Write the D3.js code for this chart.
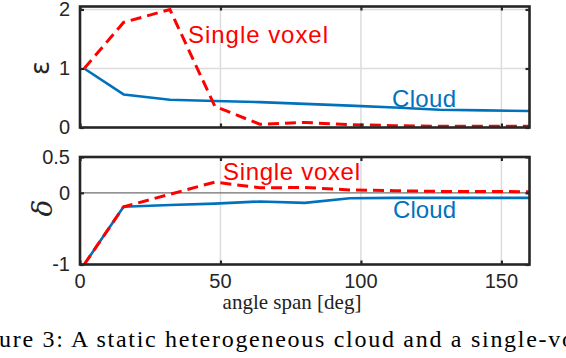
<!DOCTYPE html>
<html><head><meta charset="utf-8">
<script src="https://cdn.jsdelivr.net/npm/d3@7"></script>
<style>body{margin:0;background:#fff}svg{display:block}</style>
</head><body>
<svg id="c" width="566" height="358"></svg>
<script>
const angles = [1.5, 15.5, 32, 48, 64, 80, 96, 112, 128, 144, 160];
const epsCloud  = [1.0, 0.56, 0.47, 0.45, 0.43, 0.40, 0.37, 0.34, 0.30, 0.29, 0.28];
const epsSingle = [1.0, 1.78, 2.0, 0.36, 0.055, 0.085, 0.05, 0.03, 0.02, 0.02, 0.02];
const delCloud  = [-1, -0.195, -0.17, -0.15, -0.12, -0.14, -0.075, -0.07, -0.07, -0.07, -0.07];
const delSingle = [-1, -0.195, -0.02, 0.15, 0.07, 0.075, 0.04, 0.03, 0.02, 0.02, 0.015];
const xTicks = [0, 50, 100, 150];
const epsTicks = [0, 1, 2];
const delTicks = [-1, 0, 0.5];
const epsTickLabels = ["0", "1", "2"];
const delTickLabels = ["-1", "0", "0.5"];

const svg = d3.select("#c");
const axisCol = "#262626", blue = "#0072bd", red = "#ff0000";
const sans = "'Liberation Sans', Arial, Helvetica, sans-serif";
const serif = "'Liberation Serif', 'Times New Roman', serif";
const x = d3.scaleLinear().domain([0, 160]).range([80, 529.5]);
const yTop = d3.scaleLinear().domain([0, 2.05]).range([127.5, 6.5]);
const yBot = d3.scaleLinear().domain([-1, 0.5]).range([264.5, 157]);

function panel(y, ticks, tickLabels, gridY, cloud, single, label, labelY, zeroLine, ann) {
  const g = svg.append("g");
  const [y0, y1] = y.range();
  g.selectAll(".gx").data(xTicks.filter(t => t > 0)).enter().append("line")
    .attr("x1", d => x(d)).attr("x2", d => x(d)).attr("y1", y1).attr("y2", y0)
    .attr("stroke", "#dcdcdc").attr("stroke-width", 1.5);
  g.selectAll(".gy").data(gridY).enter().append("line")
    .attr("x1", x.range()[0]).attr("x2", x.range()[1]).attr("y1", d => y(d)).attr("y2", d => y(d))
    .attr("stroke", "#dcdcdc").attr("stroke-width", 1.5);
  if (zeroLine) {
    g.append("line").attr("x1", x.range()[0]).attr("x2", x.range()[1])
      .attr("y1", y(0)).attr("y2", y(0)).attr("stroke", "#6e6e6e").attr("stroke-width", 1.2);
  }
  const line = d3.line().x((d, i) => x(angles[i])).y(d => y(d));
  g.append("path").datum(cloud).attr("d", line).attr("fill", "none")
    .attr("stroke", blue).attr("stroke-width", 2.6).attr("stroke-linejoin", "round");
  g.append("path").datum(single).attr("d", line).attr("fill", "none")
    .attr("stroke", red).attr("stroke-width", 3).attr("stroke-dasharray", "11,6");
  g.append("rect").attr("x", x.range()[0]).attr("y", y1)
    .attr("width", x.range()[1] - x.range()[0]).attr("height", y0 - y1)
    .attr("fill", "none").attr("stroke", axisCol).attr("stroke-width", 2.6);
  const ax = g.append("g").attr("transform", `translate(0,${y0})`)
    .call(d3.axisBottom(x).tickValues(xTicks).tickSizeInner(-4).tickSizeOuter(0).tickFormat(""));
  const axT = g.append("g").attr("transform", `translate(0,${y1})`)
    .call(d3.axisTop(x).tickValues(xTicks).tickSizeInner(-4).tickSizeOuter(0).tickFormat(""));
  const ayL = g.append("g").attr("transform", `translate(${x.range()[0]},0)`)
    .call(d3.axisLeft(y).tickValues(ticks).tickSizeInner(-4).tickSizeOuter(0).tickPadding(10)
      .tickFormat((d, i) => tickLabels[i]));
  const ayR = g.append("g").attr("transform", `translate(${x.range()[1]},0)`)
    .call(d3.axisRight(y).tickValues(ticks).tickSizeInner(-4).tickSizeOuter(0).tickFormat(""));
  [ax, axT, ayL, ayR].forEach(a => {
    a.select(".domain").remove();
    a.selectAll(".tick line").attr("stroke", axisCol).attr("stroke-width", 2.2);
  });
  ayL.selectAll(".tick text").attr("fill", axisCol)
    .style("font-family", sans).style("font-size", "20px");
  svg.append("text").attr("transform", `translate(${label.x},${labelY}) rotate(-90)`)
    .attr("text-anchor", "middle").attr("dominant-baseline", "central")
    .style("font-family", label.font).style("font-style", label.style).style("font-size", label.size)
    .attr("fill", axisCol).text(label.t);
  ann.forEach(a => {
    svg.append("text").attr("x", a.x).attr("y", a.y).attr("fill", a.c)
      .attr("textLength", a.w).attr("lengthAdjust", "spacing")
      .style("font-family", sans).style("font-size", "24px").text(a.t);
  });
}

panel(yTop, epsTicks, epsTickLabels, [1, 2], epsCloud, epsSingle,
  {x: 40, t: "ε", font: "'DejaVu Sans', sans-serif", style: "normal", size: "26px"}, 68, false,
  [{t: "Single voxel", x: 188, y: 43, w: 140, c: red}, {t: "Cloud", x: 392, y: 107, w: 64, c: blue}]);

panel(yBot, delTicks, delTickLabels, [], delCloud, delSingle,
  {x: 42, t: "δ", font: "'DejaVu Serif', serif", style: "italic", size: "28px"}, 208, true,
  [{t: "Single voxel", x: 223, y: 180, w: 137, c: red}, {t: "Cloud", x: 393, y: 218, w: 63, c: blue}]);

svg.append("g").selectAll("text").data(xTicks).enter().append("text")
  .attr("x", d => x(d)).attr("y", 288).attr("text-anchor", "middle").attr("fill", axisCol)
  .style("font-family", sans).style("font-size", "20px")
  .text(d => d);

svg.append("text").attr("x", 292).attr("y", 309).attr("text-anchor", "middle")
  .style("font-family", serif).style("font-size", "21px")
  .attr("fill", "#222").text("angle span [deg]");

svg.append("text").attr("x", -1).attr("y", 347)
  .attr("textLength", 575).attr("lengthAdjust", "spacing")
  .style("font-family", serif).style("font-size", "24px")
  .attr("fill", "#000").text("ure 3: A static heterogeneous cloud and a single-vo");
</script>
</body></html>
